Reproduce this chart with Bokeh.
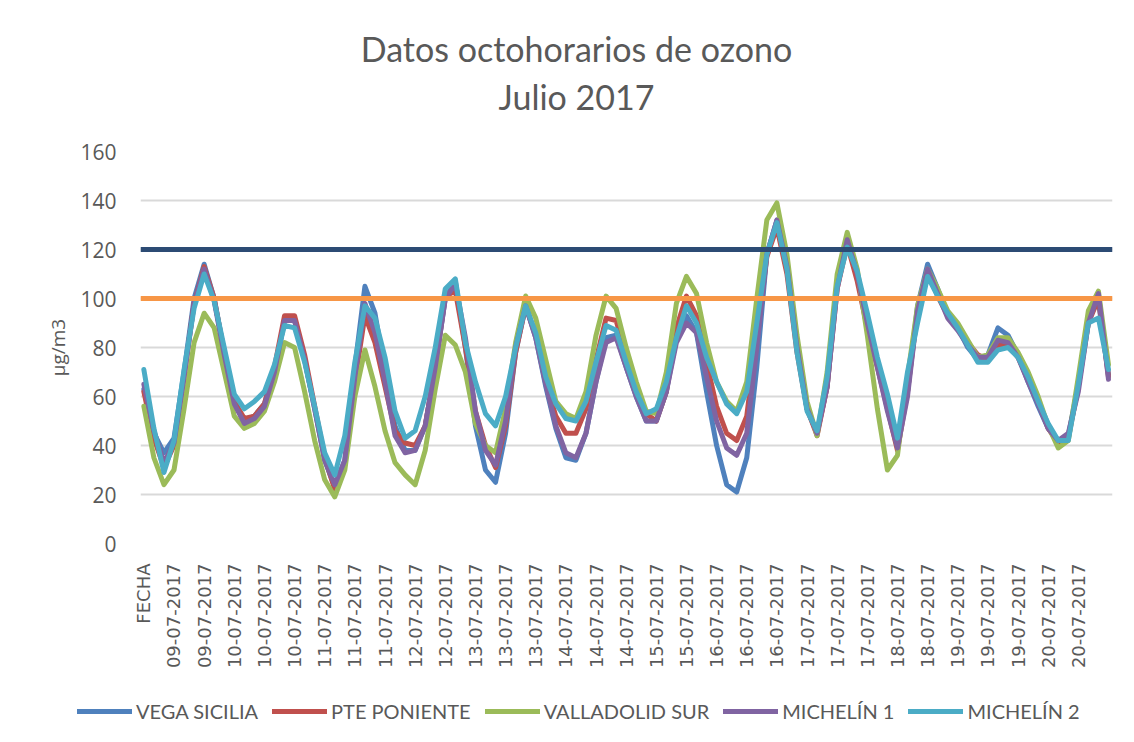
import math
from bokeh.plotting import figure
from bokeh.models import Range1d, FixedTicker, Label, Legend, LegendItem, Span
from bokeh.embed import file_html
from bokeh.resources import INLINE

# ---------------- data ----------------
DAYS = list(range(9, 21))
CATEGORIES = ["FECHA"] + ["%02d-07-2017" % d for d in DAYS for _ in range(24)]
LABEL_STEP = 9
TICKS = list(range(0, len(CATEGORIES) - 1, LABEL_STEP))

# samples every 3 hours (category index)
X_IDX = list(range(0, 289, 3))

VEGA_SICILIA = [63, 45, 37, 43, 70, 100, 114, 100, 78, 58, 50, 52, 57, 71, 91, 91, 75, 55, 34, 23,
                34, 72, 105, 94, 70, 48, 38, 38, 48, 72, 100, 107, 80, 48, 30, 25, 45, 78, 97, 84,
                64, 47, 35, 34, 45, 66, 84, 85, 72, 60, 50, 50, 62, 84, 93, 86, 62, 40, 24, 21,
                35, 72, 118, 132, 113, 80, 55, 45, 64, 106, 125, 110, 92, 74, 58, 42, 62, 97, 114, 104,
                93, 88, 80, 75, 77, 88, 85, 77, 66, 56, 47, 42, 44, 65, 92, 99, 69]
PTE_PONIENTE = [62, 43, 31, 40, 68, 98, 113, 100, 78, 58, 51, 52, 57, 72, 93, 93, 77, 56, 35, 22,
                32, 66, 93, 82, 64, 46, 41, 40, 48, 72, 101, 103, 80, 54, 40, 31, 48, 78, 97, 85,
                66, 52, 45, 45, 55, 75, 92, 91, 77, 64, 53, 50, 62, 88, 101, 93, 74, 56, 45, 42,
                52, 85, 117, 129, 110, 78, 55, 44, 64, 104, 122, 107, 88, 72, 55, 38, 62, 95, 111, 101,
                93, 88, 82, 77, 75, 81, 81, 76, 67, 58, 47, 41, 43, 64, 90, 100, 68]
VALLADOLID_SUR = [56, 35, 24, 30, 55, 82, 94, 88, 70, 52, 47, 49, 54, 66, 82, 80, 62, 42, 26, 19,
                  30, 60, 79, 64, 46, 33, 28, 24, 38, 63, 85, 81, 70, 49, 40, 37, 55, 82, 101, 92,
                  75, 58, 53, 51, 62, 85, 101, 96, 80, 66, 54, 53, 70, 98, 109, 102, 82, 66, 58, 54,
                  66, 100, 132, 139, 118, 85, 58, 44, 70, 110, 127, 112, 85, 55, 30, 36, 68, 97, 112, 104,
                  95, 90, 83, 76, 77, 84, 84, 78, 70, 60, 48, 39, 42, 68, 95, 103, 73]
MICHELIN_1 = [65, 46, 33, 41, 68, 98, 112, 99, 77, 57, 49, 51, 56, 70, 91, 91, 75, 55, 34, 24,
              34, 68, 98, 86, 66, 44, 37, 38, 48, 72, 100, 106, 84, 54, 38, 32, 50, 80, 97, 84,
              65, 48, 37, 35, 45, 66, 82, 84, 72, 60, 50, 50, 62, 82, 90, 86, 68, 50, 39, 36,
              45, 80, 118, 132, 113, 80, 55, 45, 64, 104, 124, 110, 90, 72, 54, 39, 60, 95, 112, 102,
              92, 87, 81, 76, 76, 83, 82, 76, 66, 57, 47, 42, 45, 62, 90, 102, 67]
MICHELIN_2 = [71, 47, 29, 42, 71, 96, 110, 99, 80, 61, 55, 58, 62, 73, 89, 88, 74, 56, 37, 28,
              44, 74, 97, 92, 76, 54, 43, 46, 60, 80, 104, 108, 82, 66, 53, 48, 60, 80, 97, 86,
              68, 57, 51, 50, 58, 74, 89, 87, 74, 62, 53, 55, 66, 84, 97, 90, 76, 66, 57, 53,
              62, 90, 118, 131, 112, 78, 54, 46, 68, 105, 121, 111, 94, 76, 61, 43, 70, 90, 109, 101,
              94, 88, 81, 74, 74, 79, 80, 76, 68, 58, 49, 42, 42, 65, 90, 92, 71]

SERIES_NAMES = ["VEGA SICILIA", "PTE PONIENTE", "VALLADOLID SUR", "MICHELÍN 1", "MICHELÍN 2"]
SERIES_VALUES = [VEGA_SICILIA, PTE_PONIENTE, VALLADOLID_SUR, MICHELIN_1, MICHELIN_2]
SERIES_COLORS = ["#4F81BD", "#C0504D", "#9BBB59", "#8064A2", "#4BACC6"]

LIMITS = [120, 100]
LIMIT_COLORS = ["#2C4B74", "#F79646"]

Y_TICKS = list(range(0, 161, 20))
TITLE_LINES = ["Datos octohorarios de ozono", "Julio 2017"]
Y_LABEL = "µg/m3"

TEXT_COLOR = "#595959"
W = 1134
H_TITLE, H_MAIN = 128, 543
H_LEG = 742 - H_TITLE - H_MAIN


def bare(fig):
    fig.outline_line_color = None
    fig.background_fill_color = "white"
    fig.border_fill_color = "white"
    fig.grid.grid_line_color = None
    return fig


# ---------------- title strip ----------------
ft = bare(figure(width=W, height=H_TITLE, output_backend="svg", toolbar_location=None,
                 x_range=Range1d(0, W), y_range=Range1d(0, H_TITLE),
                 x_axis_type=None, y_axis_type=None, min_border=0))
for txt, yv in zip(TITLE_LINES, [80, 32]):
    ft.add_layout(Label(x=576, y=yv, text=txt, text_align="center", text_baseline="middle",
                        text_font="Lato", text_font_size="34px", text_color=TEXT_COLOR))

# ---------------- main chart ----------------
p = bare(figure(width=W, height=H_MAIN, output_backend="svg", toolbar_location=None,
                x_range=Range1d(-1, 289.2), y_range=Range1d(0, 160),
                min_border_left=140, min_border_right=22, min_border_top=23, min_border_bottom=128))

p.ygrid.grid_line_color = "#D9D9D9"
p.ygrid.grid_line_width = 2
p.yaxis.ticker = FixedTicker(ticks=Y_TICKS)
p.yaxis.axis_line_color = None
p.yaxis.major_tick_line_color = None
p.yaxis.minor_tick_line_color = None
p.yaxis.major_label_standoff = 18
p.yaxis.major_label_text_font = "Open Sans"
p.yaxis.major_label_text_font_size = "21px"
p.yaxis.major_label_text_color = TEXT_COLOR
p.yaxis.axis_label = Y_LABEL
p.yaxis.axis_label_text_font = "Open Sans"
p.yaxis.axis_label_text_font_size = "19px"
p.yaxis.axis_label_text_font_style = "normal"
p.yaxis.axis_label_text_color = TEXT_COLOR
p.yaxis.axis_label_standoff = 6

p.xaxis.ticker = FixedTicker(ticks=TICKS)
p.xaxis.major_label_overrides = {t: CATEGORIES[t] for t in TICKS}
p.xaxis.major_label_orientation = math.pi / 2
p.xaxis.axis_line_color = None
p.xaxis.major_tick_line_color = None
p.xaxis.minor_tick_line_color = None
p.xaxis.major_label_standoff = 14
p.xaxis.major_label_text_font = "DejaVu Sans"
p.xaxis.major_label_text_font_size = "18px"
p.xaxis.major_label_text_color = TEXT_COLOR

for name, vals, col in zip(SERIES_NAMES, SERIES_VALUES, SERIES_COLORS):
    p.line(X_IDX, vals, line_color=col, line_width=5, line_join="round", line_cap="round")

for lim, col in zip(LIMITS, LIMIT_COLORS):
    p.add_layout(Span(location=lim, dimension="width", line_color=col, line_width=5))

# ---------------- legend strip ----------------
fl = bare(figure(width=W, height=H_LEG, output_backend="svg", toolbar_location=None,
                 x_range=Range1d(0, W), y_range=Range1d(0, H_LEG),
                 x_axis_type=None, y_axis_type=None, min_border=0))
items = []
for name, vals, col in zip(SERIES_NAMES, SERIES_VALUES, SERIES_COLORS):
    r = fl.line(X_IDX, vals, line_color=col, line_width=5, line_cap="round", visible=False)
    items.append(LegendItem(label=name, renderers=[r]))
legend = Legend(items=items, orientation="horizontal", location=(77, 19),
                glyph_width=55, glyph_height=20, label_standoff=4, spacing=14,
                padding=0, margin=0, border_line_color=None, background_fill_alpha=0,
                inactive_fill_alpha=0,
                label_text_font="Lato", label_text_font_size="20px", label_text_color=TEXT_COLOR)
fl.add_layout(legend)

open("out.html", "w").write(file_html([ft, p, fl], INLINE))
